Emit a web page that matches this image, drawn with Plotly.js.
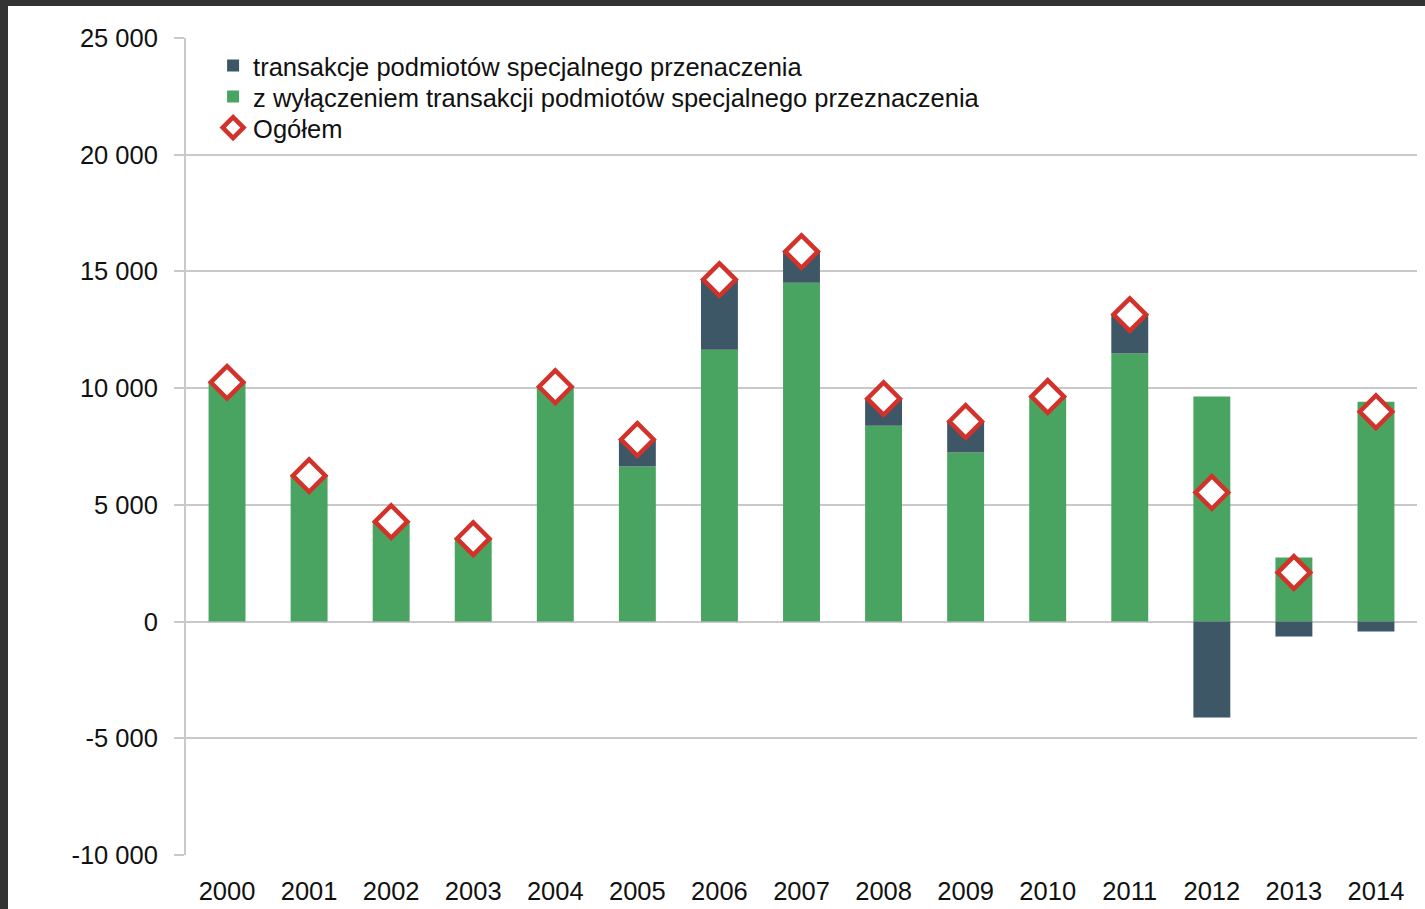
<!DOCTYPE html>
<html>
<head>
<meta charset="utf-8">
<script src="https://cdn.plot.ly/plotly-3.0.1.min.js"></script>
<style>
  html, body { margin: 0; padding: 0; background: #ffffff; }
  #chart { width: 1425px; height: 909px; }
  .frameTop { position: absolute; left: 0; top: 0; width: 1425px; height: 6px; background: #333333; }
  .frameLeft { position: absolute; left: 0; top: 0; width: 8px; height: 909px; background: #333333; }
</style>
</head>
<body>
<div id="chart"></div>
<div class="frameTop"></div>
<div class="frameLeft"></div>
<script>
const years = ['2000','2001','2002','2003','2004','2005','2006','2007','2008','2009','2010','2011','2012','2013','2014'];
const excludingSPE = [10250, 6250, 4280, 3550, 10060, 6640, 11650, 14520, 8390, 7240, 9640, 11480, 9640, 2740, 9420];
const speTransactions = [0, 0, 0, 0, 0, 1160, 3000, 1330, 1160, 1330, 0, 1670, -4110, -640, -430];
const total = [10250, 6250, 4280, 3550, 10060, 7800, 14650, 15850, 9550, 8570, 9640, 13150, 5530, 2100, 8990];
const yTickVals = [25000, 20000, 15000, 10000, 5000, 0, -5000, -10000];
const yTickText = ['25 000', '20 000', '15 000', '10 000', '5 000', '0', '-5 000', '-10 000'];

const seriesNames = [
  'transakcje podmiotów specjalnego przenaczenia',
  'z wyłączeniem transakcji podmiotów specjalnego przeznaczenia',
  'Ogółem'
];

const FONT = '"Liberation Sans", Arial, sans-serif';

const traces = [
  {
    type: 'bar', x: years, y: excludingSPE, name: seriesNames[1], legend: 'legend2',
    marker: { color: '#4aa461' }, width: 0.45
  },
  {
    type: 'bar', x: years, y: speTransactions, name: seriesNames[0], legend: 'legend',
    marker: { color: '#3e5766' }, width: 0.45
  },
  {
    type: 'scatter', mode: 'markers', x: years, y: total, name: seriesNames[2], legend: 'legend3',
    marker: { symbol: 'diamond', size: 25, color: '#ffffff', line: { color: '#d3322b', width: 4.5 } }
  }
];

function legendAt(yPaper) {
  return {
    x: 0.022, y: yPaper, xanchor: 'left', yanchor: 'middle',
    bgcolor: 'rgba(255,255,255,0)', borderwidth: 0,
    font: { family: FONT, size: 25.5, color: '#111111' },
    itemwidth: 30
  };
}

const layout = {
  width: 1425, height: 909,
  margin: { l: 186, r: 8, t: 38, b: 54 },
  paper_bgcolor: '#ffffff', plot_bgcolor: '#ffffff',
  barmode: 'relative',
  bargap: 0.55,
  font: { family: FONT, color: '#111111', size: 25.5 },
  showlegend: true,
  legend: legendAt(0.9657),
  legend2: legendAt(0.9278),
  legend3: legendAt(0.8898),
  xaxis: {
    type: 'category', categoryorder: 'array', categoryarray: years,
    showgrid: false, zeroline: false, showline: false,
    ticks: '', ticklabelstandoff: 18,
    tickfont: { family: FONT, size: 25.5, color: '#111111' },
    range: [-0.5, 14.5]
  },
  yaxis: {
    range: [-10000, 25000],
    tickvals: yTickVals, ticktext: yTickText,
    showgrid: true, gridcolor: '#c9c9c9', gridwidth: 2,
    zeroline: false,
    showline: true, linecolor: '#c9c9c9', linewidth: 2,
    ticks: 'outside', ticklen: 10, tickcolor: '#c9c9c9', tickwidth: 2,
    ticklabelstandoff: 11,
    tickfont: { family: FONT, size: 25.5, color: '#111111' }
  }
};

Plotly.newPlot('chart', traces, layout, { displayModeBar: false, staticPlot: true });
</script>
</body>
</html>
